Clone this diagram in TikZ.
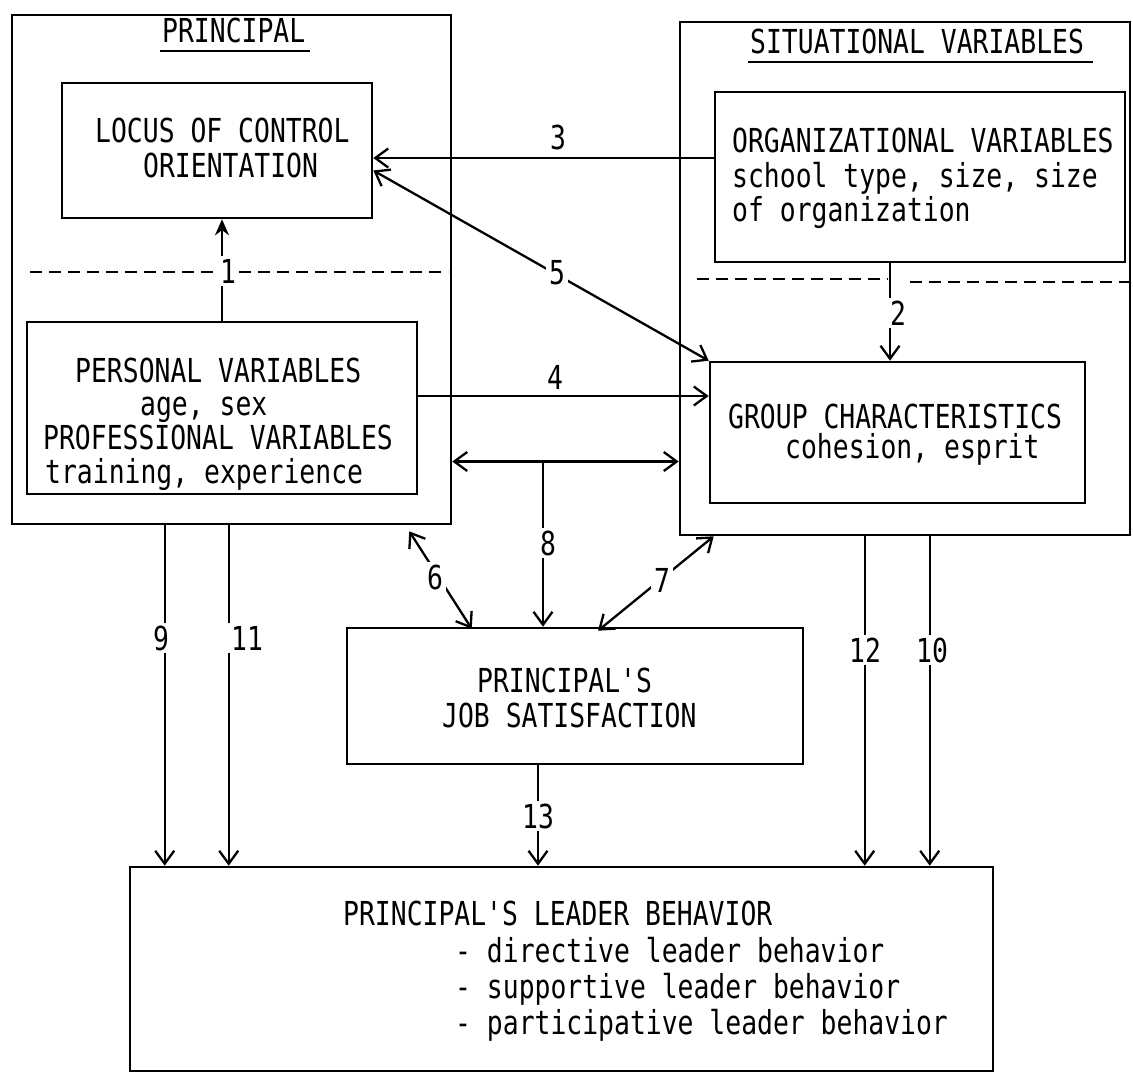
\documentclass[tikz,border=0pt]{standalone}
\usepackage{fontspec}
\newfontfamily\mono[FakeStretch=0.8]{DejaVu Sans Mono}
\usetikzlibrary{arrows.meta,calc}
\tikzset{
  box/.style={draw, line width=2.6pt, rectangle, inner sep=0pt},
  txt/.style={font=\mono\fontsize{33}{38}\selectfont, inner sep=0pt, anchor=base west},
  lab/.style={font=\mono\fontsize{33}{38}\selectfont, inner sep=3pt, fill=white},
  labn/.style={font=\mono\fontsize{33}{38}\selectfont, inner sep=0pt},
  conn/.style={line width=2.3pt},
  arr/.style={conn, -{Straight Barb[length=13pt,width=19pt]}},
  arrs/.style={conn, -{Stealth[length=16pt,width=14pt]}},
  arr2/.style={conn, {Straight Barb[length=13pt,width=19pt]}-{Straight Barb[length=13pt,width=19pt]}},
  dsh/.style={line width=2.3pt, dash pattern=on 12pt off 7pt},
}
\begin{document}
\begin{tikzpicture}[x=1pt,y=-1pt]
\path[fill=white,use as bounding box] (0,0) rectangle (1133,1079);

% boxes
\node[box, minimum width=439pt, minimum height=509pt] (principal) at (231.5,269.5) {};
\node[box, minimum width=310pt, minimum height=135pt] (locus) at (217,150.5) {};
\node[box, minimum width=390pt, minimum height=172pt] (personal) at (222,408) {};
\node[box, minimum width=450pt, minimum height=513pt] (sit) at (905,278.5) {};
\node[box, minimum width=410pt, minimum height=170pt] (org) at (920,177) {};
\node[box, minimum width=375pt, minimum height=141pt] (group) at (897.5,432.5) {};
\node[box, minimum width=456pt, minimum height=136pt] (job) at (575,696) {};
\node[box, minimum width=863pt, minimum height=204pt] (leader) at (561.5,969) {};

% titles
\node[txt] (ptitle) at (162,42) {PRINCIPAL};
\draw[conn] ($(ptitle.base west)+(-2,9)$) -- ($(ptitle.base east)+(5,9)$);
\node[txt] (stitle) at (750,53) {SITUATIONAL VARIABLES};
\draw[conn] ($(stitle.base west)+(-2,9)$) -- ($(stitle.base east)+(9,9)$);

% texts
\node[txt] (locus1) at (95,142) {LOCUS OF CONTROL};
\node[txt] (locus2) at (143,177) {ORIENTATION};
\node[txt] (pers1) at (75,382) {PERSONAL VARIABLES};
\node[txt] (pers2) at (140,415) {age, sex};
\node[txt] (pers3) at (43,449) {PROFESSIONAL VARIABLES};
\node[txt] (pers4) at (45,483) {training, experience};
\node[txt] (org1) at (732,152) {ORGANIZATIONAL VARIABLES};
\node[txt] (org2) at (732,187) {school type, size, size};
\node[txt] (org3) at (732,221) {of organization};
\node[txt] (grp1) at (728,428) {GROUP CHARACTERISTICS};
\node[txt] (grp2) at (785,458) {cohesion, esprit};
\node[txt] (job1) at (477,692) {PRINCIPAL'S};
\node[txt] (job2) at (442,727) {JOB SATISFACTION};
\node[txt] (lead1) at (343,925) {PRINCIPAL'S LEADER BEHAVIOR};
\node[txt] (lead2) at (455,962) {- directive leader behavior};
\node[txt] (lead3) at (455,998) {- supportive leader behavior};
\node[txt] (lead4) at (455,1034) {- participative leader behavior};

% dashed separators
\draw[dsh] (30,272) -- (448,272);
\draw[dsh] (697,279) -- (888,279);
\draw[dsh] (910,282) -- (1133,282);

% coordinates for connector ends
\coordinate (a3) at ($(org.west)+(0,-19)$);
\coordinate (a5) at ($(locus.east)+(0,20)$);
\coordinate (a4) at ($(personal.east)+(0,-12)$);
\coordinate (a8) at ($(principal.east)+(0,192)$);
\coordinate (a8b) at ($(job.north)+(-32,0)$);
\coordinate (a6t) at ($(principal.south east)+(-43,6)$);
\coordinate (a6b) at ($(job.north west)+(126,2)$);
\coordinate (a7t) at ($(sit.south west)+(35,0)$);
\coordinate (a7b) at ($(job.north)+(23,4)$);
\coordinate (a9) at ($(principal.south west)+(154,0)$);
\coordinate (a11) at ($(principal.south west)+(218,0)$);
\coordinate (a12) at ($(sit.south west)+(186,0)$);
\coordinate (a10) at ($(sit.south west)+(251,0)$);
\coordinate (a13) at ($(job.south)+(-37,0)$);
\coordinate (a2) at ($(org.south)+(-30,0)$);

% connectors
\draw[arrs] (personal.north) -- (personal.north |- locus.south);
\node[lab] (l1) at (228,271) {1};

\draw[arr] (a2) -- (a2 |- group.north);
\node[lab] (l2) at (898,313) {2};

\draw[arr] (a3) -- (a3 -| locus.east);
\node[labn] (l3) at (558,137) {3};

\draw[arr2] (a5) -- (group.north west);
\node[lab] (l5) at (557,273) {5};

\draw[arr] (a4) -- (a4 -| group.west);
\node[labn] (l4) at (555,377) {4};

\draw[arr2] (a8) -- (a8 -| sit.west);
\draw[arr] (a8b |- a8) -- (a8b);
\node[lab] (l8) at (548,543) {8};

\draw[arr2] (a6t) -- (a6b);
\node[lab] (l6) at (435,577) {6};

\draw[arr2] (a7t) -- (a7b);
\node[lab] (l7) at (662,580) {7};

\draw[arr] (a9) -- (a9 |- leader.north);
\node[lab] (l9) at (161,638) {9};
\draw[arr] (a11) -- (a11 |- leader.north);
\node[lab] (l11) at (247,638) {11};

\draw[arr] (a12) -- (a12 |- leader.north);
\node[lab] (l12) at (865,650) {12};
\draw[arr] (a10) -- (a10 |- leader.north);
\node[lab] (l10) at (932,650) {10};

\draw[arr] (a13) -- (a13 |- leader.north);
\node[lab] (l13) at (538,816) {13};
\end{tikzpicture}
\end{document}
